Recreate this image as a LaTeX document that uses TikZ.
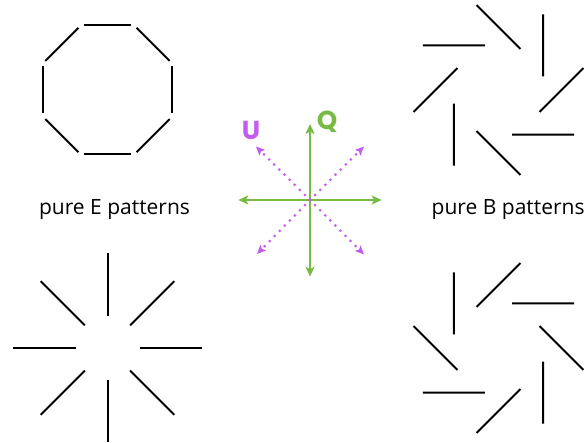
\documentclass[tikz,border=0pt]{standalone}
\usepackage{fontspec}
\setmainfont{Open Sans}
\newfontfamily\letterfont{Poppins}
\usetikzlibrary{arrows.meta}
\definecolor{qgreen}{RGB}{120,186,70}
\definecolor{umag}{RGB}{196,92,240}
\tikzset{
  seg/.style={line width=2pt, black},
  garrow/.style={line width=2pt, qgreen, -{Stealth[length=10pt,width=9pt,inset=2.5pt]}},
  marrow/.style={line width=3pt, umag, line cap=round, dash pattern=on 0pt off 7.2pt,
     -{Stealth[length=9pt,width=8pt,inset=2pt,line width=0pt,sep=0pt]}},
  plabel/.style={font=\fontsize{21}{23}\selectfont, inner sep=0pt},
  letter/.style={font=\letterfont\fontsize{26}{28}\selectfont\bfseries, inner sep=0pt}
}
\begin{document}
\begin{tikzpicture}[x=1pt,y=1pt]
\useasboundingbox (0,0) rectangle (584,443);
\coordinate (E) at (107.5,353);
\coordinate (R) at (107.5,95);
\coordinate (Bt) at (498.5,353);
\coordinate (Bb) at (498.5,95);
% pure E: tangential (octagon)
\foreach \a in {0,45,...,315}
  \draw[seg, shift={(E)}, rotate=\a] (64.5,-23.5) -- (64.5,23.5);
% pure E: radial
\foreach \a in {0,45,...,315}
  \draw[seg, shift={(R)}, rotate=\a] (32,0) -- (94.5,0);
% pure B: +45
\foreach \a in {0,45,...,315}
  \draw[seg, shift={(Bt)}, rotate=\a] (63,0) ++(45:-31) -- ++(45:62);
% pure B: -45
\foreach \a in {0,45,...,315}
  \draw[seg, shift={(Bb)}, rotate=\a] (63,0) ++(-45:-31) -- ++(-45:62);
% labels
\node[plabel, anchor=base] (le) at (114.5,228) {pure E patterns};
\node[plabel, anchor=base west] (lb) at (431.5,228) {pure B patterns};
% Q/U axes
\coordinate (C) at (310,243);
\coordinate (Cn) at (310,319);
\coordinate (Cs) at (310,166.3);
\coordinate (Cw) at (238.3,243);
\coordinate (Ce) at (381.7,243);
\coordinate (Cnw) at (256,296.5);
\coordinate (Cne) at (364,296.5);
\coordinate (Csw) at (257,189);
\coordinate (Cse) at (364,188.5);
\draw[garrow] (C) -- (Cn);
\draw[garrow] (C) -- (Cs);
\draw[garrow] (C) -- (Cw);
\draw[garrow] (C) -- (Ce);
\draw[marrow] (C) -- (Cnw);
\draw[marrow] (C) -- (Cne);
\draw[marrow] (C) -- (Csw);
\draw[marrow] (C) -- (Cse);
\node[letter, text=umag] (u) at (251,313) {U};
\node[letter, text=qgreen] (q) at (327,321) {Q};
\end{tikzpicture}
\end{document}
